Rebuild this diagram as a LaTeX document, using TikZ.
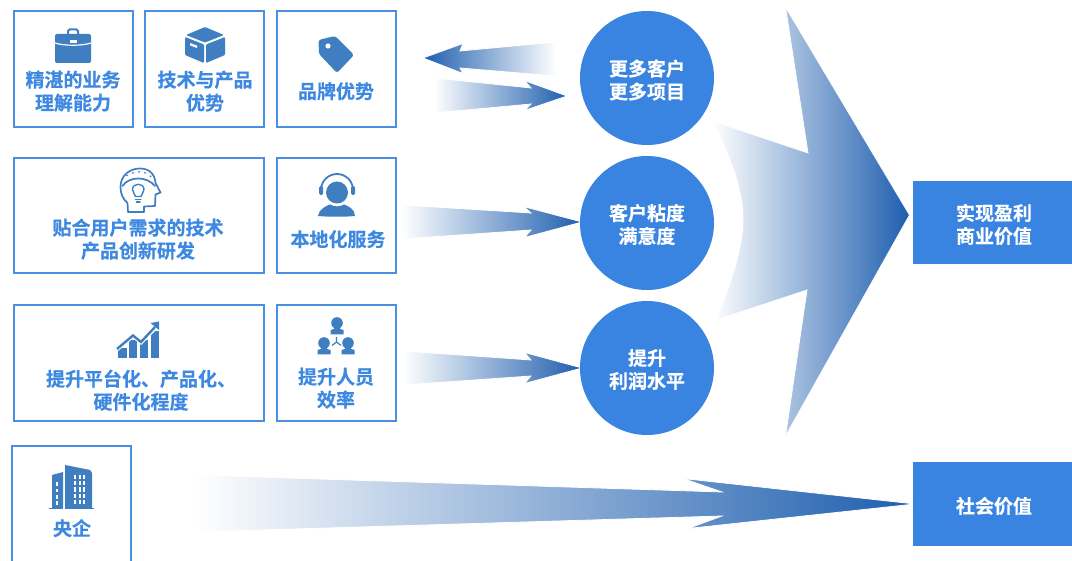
\documentclass[tikz,border=0pt]{standalone}
\usepackage{fontspec}
\setmainfont{Noto Sans CJK SC}[BoldFont={Noto Sans CJK SC Bold},BoldFeatures={FakeBold=0.35}]
\definecolor{edgeblue}{HTML}{4A90E2}
\definecolor{fillblue}{HTML}{3984E0}
\definecolor{textblue}{HTML}{3D88E0}
\definecolor{iconblue}{HTML}{3F7FC1}
\definecolor{tipblue}{HTML}{1E5EAE}
\pgfdeclarehorizontalshading{fade}{100bp}{color(0bp)=(white); color(25bp)=(white); color(75bp)=(tipblue); color(100bp)=(tipblue)}
\tikzset{
  card/.style={draw=edgeblue,line width=2pt,fill=white,inner sep=0pt,outer sep=0pt},
  cardtext/.style={text=textblue,font=\fontsize{19}{23}\selectfont\bfseries,align=center,inner sep=0pt},
  whitetext/.style={text=white,font=\fontsize{19}{23}\selectfont\bfseries,align=center,inner sep=0pt},
  disc/.style={circle,fill=fillblue,minimum size=134pt,inner sep=0pt},
  valuebox/.style={fill=fillblue,inner sep=0pt,minimum width=160pt,minimum height=83pt},
  flow/.style={shading=fade,draw=white,line width=0.8pt,line join=miter},
  flowleft/.style={shading=fade,shading angle=180,draw=white,line width=0.8pt,line join=miter},
  ic/.style={fill=iconblue,draw=none},
  icl/.style={draw=iconblue,fill=none,line width=1.7pt,line join=round,line cap=round},
  icw/.style={fill=white,draw=none},
}
\begin{document}
\begin{tikzpicture}[x=1pt,y=-1pt]
\useasboundingbox (0,0) rectangle (1072,561);
\clip (0,0) rectangle (1072,561);
\fill[white] (0,0) rectangle (1072,561);

% gradient arrows
\path[flow] (712,121) -- (808,153) -- (785.5,7) -- (909.5,215) -- (785.5,436) -- (807,290) -- (716,320)
  .. controls (730,285) and (743,250) .. (743,220) .. controls (743,195) and (735,165) .. cycle;
\path[flowleft] (423,58) -- (463,43.5) -- (460,51) -- (556,42) -- (556,76) -- (460,68) -- (463,73.5) -- cycle;
\path[flow] (434,78) -- (531,88) -- (524.5,80.5) -- (567,96) -- (524.5,110.5) -- (531,104) -- (434,113) -- cycle;
\path[flow] (402,205) -- (531,213) -- (523.5,206.5) -- (582,222) -- (524.5,237.5) -- (531,230) -- (402,239) -- cycle;
\path[flow] (403,351) -- (531,360) -- (524.5,352.5) -- (582,368) -- (524.5,383.5) -- (531,376) -- (403,385) -- cycle;
\path[flow] (195,475) -- (722,492) -- (683,478.5) -- (915,504) -- (688,528.5) -- (722,516) -- (195,532) -- cycle;

% cards
\node[card,minimum width=119.5pt,minimum height=116.5pt] (c1) at (73.5,69) {};
\node[card,minimum width=119.5pt,minimum height=116.5pt] (c2) at (204.5,69) {};
\node[card,minimum width=119.5pt,minimum height=116.5pt] (c3) at (336.5,69) {};
\node[card,minimum width=250.5pt,minimum height=115.5pt] (c4) at (139,215.5) {};
\node[card,minimum width=119.5pt,minimum height=115.5pt] (c5) at (336.5,215.5) {};
\node[card,minimum width=250.5pt,minimum height=116.5pt] (c6) at (139,363) {};
\node[card,minimum width=119.5pt,minimum height=116.5pt] (c7) at (336.5,363) {};
\node[card,minimum width=119.5pt,minimum height=140pt] (c8) at (71.5,516) {};

% card labels
\node[cardtext] (t1) at (73,91.2) {精湛的业务\\理解能力};
\node[cardtext] (t2) at (205,91.2) {技术与产品\\优势};
\node[cardtext] (t3) at (336,91.2) {品牌优势};
\node[cardtext] (t4) at (138,239.2) {贴合用户需求的技术\\产品创新研发};
\node[cardtext] (t5) at (338,239.2) {本地化服务};
\node[cardtext] (t6) at (141,390.2) {提升平台化、产品化、\\硬件化程度};
\node[cardtext] (t7) at (336,388.2) {提升人员\\效率};
\node[cardtext] (t8) at (72,528.2) {央企};

% discs and values
\node[disc] (d1) at (647,78) {};
\node[disc] (d2) at (647,223) {};
\node[disc] (d3) at (647,368) {};
\node[valuebox] (v1) at (993,222.5) {};
\node[valuebox] (v2) at (993,504) {};
\node[whitetext] (l1) at (647,80) {更多客户\\更多项目};
\node[whitetext] (l2) at (647,224.5) {客户粘度\\满意度};
\node[whitetext] (l3) at (647,369.5) {提升\\利润水平};
\node[whitetext] (l4) at (994,224.5) {实现盈利\\商业价值};
\node[whitetext] (l5) at (994,506) {社会价值};

% briefcase
\draw[iconblue,line width=2pt,rounded corners=1.5pt] (68,35) -- (68,29.5) -- (78,29.5) -- (78,35);
\fill[ic,rounded corners=2pt] (55,34) rectangle (91,63);
\draw[white,line width=1.2pt] (55,43) .. controls (64,46) and (82,46) .. (91,43);
\fill[icw] (70,40) rectangle (77,43.5);

% cube
\fill[ic,rounded corners=1pt] (205,27) -- (224,35) -- (205,42.5) -- (186,35) -- cycle;
\fill[ic,rounded corners=1pt] (185,37) -- (204,44.5) -- (204,63) -- (185,55) -- cycle;
\fill[ic,rounded corners=1pt] (225,37) -- (206,44.5) -- (206,63) -- (225,55) -- cycle;
\fill[icw] (190,43) -- (197,45.6) -- (197,48) -- (190,45.4) -- cycle;

% tag
\fill[ic,rounded corners=2.5pt] (318.5,40) -- (335,36) -- (354,55) -- (337,73) -- (319,54) -- cycle;
\fill[icw] (328,46) circle (2.6);

% head with bulb
\draw[icl] (128,212) -- (127.5,203) .. controls (123,199) and (120.5,194) .. (120.5,187)
  .. controls (120.5,176) and (129,168.5) .. (140,168.5)
  .. controls (150,168.5) and (155,175) .. (155.5,183) -- (160.5,192.5) -- (155.5,194.5)
  -- (155,206) -- (144,206.5) -- (144,212) -- cycle;
\draw[icl] (122.5,186) .. controls (129,176) and (147,176) .. (155,186);
\draw[icl,line width=1.4pt] (135.5,196.5) .. controls (135,193.5) and (132.5,192.5) .. (132.5,189.5)
  .. controls (132.5,182.5) and (144,182.5) .. (144,189.5) .. controls (144,192.5) and (141.5,193.5) .. (141,196.5) -- cycle;
\draw[icl,line width=1.4pt] (135.5,199.5) -- (141,199.5) (136.5,202) -- (140,202);
\fill[ic] (127,175.5) circle (1) (133,173) circle (1) (139,172) circle (1) (145,173) circle (1) (150.5,176.5) circle (1);

% headset
\draw[iconblue,line width=1.8pt] (321,190) arc[start angle=180,end angle=360,radius=16];
\fill[ic,rounded corners=1.5pt] (319,186) rectangle (323,195);
\fill[ic,rounded corners=1.5pt] (351,186) rectangle (355,195);
\fill[ic] (337,192.5) circle (11);
\fill[ic] (318,216) .. controls (319,209) and (326,206) .. (330,204.5) .. controls (334,207) and (340,207) .. (344,204.5)
  .. controls (348,206) and (355,209) .. (355,216) .. controls (345,217) and (328,217) .. (318,216) -- cycle;

% chart
\fill[ic] (118,348) rectangle (126.5,358);
\fill[ic] (129,340) rectangle (136.5,358);
\fill[ic] (140,340) rectangle (147.5,358);
\fill[ic] (151,331) rectangle (158.5,358);
\draw[white,line width=4.5pt] (117,349) -- (133,335.5) -- (141,342) -- (155,328);
\draw[iconblue,line width=2.4pt] (117,349) -- (133,335.5) -- (141,342) -- (155,327);
\fill[ic] (159,321.5) -- (159,330) -- (150.5,323) -- cycle;

% people
\newcommand\personicon[2]{
  \fill[ic] (#1,#2) circle (5.8);
  \fill[ic] (#1-3,#2+4) -- (#1+3,#2+4) -- (#1+3,#2+6) -- (#1+6.5,#2+7) -- (#1+6.5,#2+11.5) -- (#1-6.5,#2+11.5) -- (#1-6.5,#2+7) -- (#1-3,#2+6) -- cycle;
}
\personicon{337}{323}
\personicon{324}{343}
\personicon{348}{343}
\draw[iconblue,line width=1.2pt] (336.5,342) -- (336.5,337) (336.5,342) -- (332,345.5) (336.5,342) -- (341,345.5);

% building
\fill[ic] (52,475) -- (63,472) -- (63,508) -- (52,508) -- cycle;
\fill[ic] (65,465) -- (90,470) -- (92,473) -- (92,508) -- (65,508) -- cycle;
\fill[ic] (49,507.5) rectangle (63,509);
\fill[ic] (65,507.5) rectangle (94,509);
\foreach \wy in {475,481.5,487.5,494,500}{
  \foreach \wx in {74,78.5,83}{
    \fill[icw] (\wx,\wy) rectangle ++(2.4,4);
  }
}
\foreach \wy in {482,488.5,495,501}{
  \fill[icw] (55.5,\wy) rectangle ++(2.2,3.8);
}
\end{tikzpicture}
\end{document}
